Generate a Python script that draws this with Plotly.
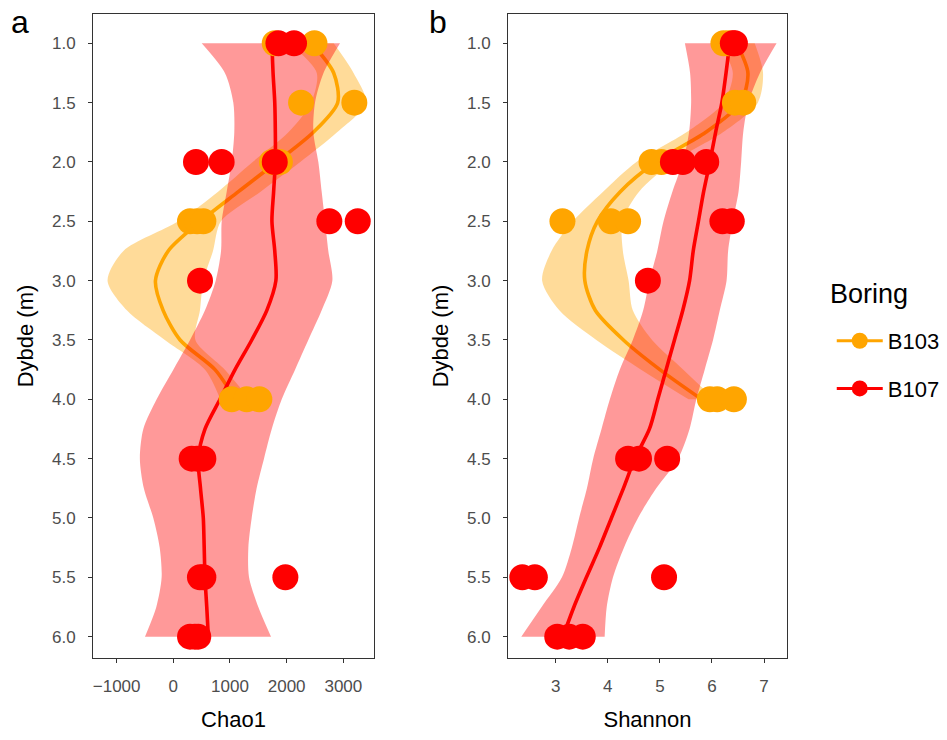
import plotly.graph_objects as go

# ---------------- data ----------------
b103_depth = [1.0, 1.0, 1.5, 1.5, 2.0, 2.0, 2.5, 2.5, 2.5, 4.0, 4.0, 4.0]
b103_chao1 = [1790, 2490, 2254, 3194, 1740, 1880, 295, 420, 530, 1030, 1295, 1518]
b103_shannon = [6.22, 6.32, 6.44, 6.60, 4.84, 5.03, 3.13, 4.06, 4.39, 5.96, 6.10, 6.42]

b107_depth = [1.0, 1.0, 2.0, 2.0, 2.0, 2.5, 2.5, 3.0, 4.5, 4.5, 4.5, 5.5, 5.5, 5.5, 6.0, 6.0, 6.0]
b107_chao1 = [1855, 2130, 400, 853, 1790, 2753, 3254, 471, 324, 420, 530, 470, 530, 1977, 295, 380, 440]
b107_shannon = [6.44, 6.40, 5.25, 5.44, 5.89, 6.20, 6.38, 4.77, 4.39, 4.60, 5.14, 2.36, 2.60, 5.08, 3.03, 3.26, 3.52]

# loess smooth curves and confidence bands
b103_fit_depth = [1.0, 1.25, 1.5, 1.75, 2.0, 2.25, 2.5, 2.75, 3.0, 3.25, 3.5, 3.75, 4.0]
b103_chao1_fit = [2440, 2830, 2900, 2470, 1825, 1148, 480, -90, -315, -180, 120, 736, 1090]
b103_chao1_lo = [2050, 2531, 2430, 2030, 1400, 790, 90, -880, -1160, -820, -150, 560, 830]
b103_chao1_hi = [2830, 3180, 3395, 2890, 2240, 1540, 840, 700, 530, 470, 390, 910, 1350]
b103_shannon_fit = [6.47, 6.69, 6.55, 5.88, 4.92, 4.24, 3.80, 3.60, 3.56, 3.76, 4.30, 5.00, 5.80]
b103_shannon_lo = [6.15, 6.40, 6.22, 5.51, 4.55, 3.91, 3.33, 2.92, 2.74, 3.07, 3.78, 4.64, 5.55]
b103_shannon_hi = [6.82, 6.98, 6.88, 6.21, 5.25, 4.60, 4.28, 4.29, 4.40, 4.48, 4.85, 5.45, 6.05]

b107_fit_depth = [1.0, 1.25, 1.5, 1.75, 2.0, 2.25, 2.5, 2.75, 3.0, 3.25, 3.5, 3.75,
                  4.0, 4.25, 4.5, 4.75, 5.0, 5.25, 5.5, 5.75, 6.0]
b107_chao1_fit = [1740, 1760, 1790, 1800, 1800, 1770, 1740, 1790, 1810, 1650, 1384, 1089,
                  824, 560, 441, 480, 529, 545, 559, 590, 618]
b107_chao1_lo = [501, 910, 1059, 1076, 1030, 942, 854, 842, 748, 559, 295, 0,
                 -294, -529, -590, -520, -353, -240, -206, -300, -500]
b107_chao1_hi = [2942, 2650, 2500, 2471, 2559, 2618, 2677, 2735, 2806, 2618, 2382, 2148,
                 1913, 1737, 1600, 1470, 1383, 1324, 1336, 1500, 1724]
b107_shannon_fit = [6.34, 6.27, 6.19, 6.07, 5.96, 5.84, 5.74, 5.64, 5.57, 5.44, 5.28, 5.12,
                    4.96, 4.80, 4.52, 4.30, 4.07, 3.84, 3.59, 3.35, 3.14]
b107_shannon_lo = [5.48, 5.58, 5.60, 5.56, 5.44, 5.24, 5.07, 4.95, 4.80, 4.68, 4.48, 4.23,
                   4.04, 3.88, 3.72, 3.60, 3.45, 3.31, 3.12, 2.73, 2.34]
b107_shannon_hi = [7.24, 6.92, 6.70, 6.60, 6.56, 6.51, 6.40, 6.31, 6.28, 6.15, 6.02, 5.86,
                   5.70, 5.57, 5.35, 4.93, 4.58, 4.31, 4.10, 3.98, 3.94]

y_ticks = [1.0, 1.5, 2.0, 2.5, 3.0, 3.5, 4.0, 4.5, 5.0, 5.5, 6.0]
chao1_ticks = [-1000, 0, 1000, 2000, 3000]
shannon_ticks = [3, 4, 5, 6, 7]

ORANGE = "#FFA500"
RED = "#FF0000"
ORANGE_FILL = "rgba(255,165,0,0.4)"
RED_FILL = "rgba(255,0,0,0.4)"
FONT = "Liberation Sans, Arial, sans-serif"

fig = go.Figure()


def add_smooth(xa, ya, depth, fit, lo, hi, line_col, fill_col):
    fig.add_trace(go.Scatter(
        x=lo, y=depth, mode="lines",
        line=dict(width=0, color=fill_col, shape="spline", smoothing=0.8),
        hoverinfo="skip", showlegend=False, xaxis=xa, yaxis=ya))
    fig.add_trace(go.Scatter(
        x=hi, y=depth, mode="lines", fill="tonextx", fillcolor=fill_col,
        line=dict(width=0, color=fill_col, shape="spline", smoothing=0.8),
        hoverinfo="skip", showlegend=False, xaxis=xa, yaxis=ya))
    fig.add_trace(go.Scatter(
        x=fit, y=depth, mode="lines",
        line=dict(color=line_col, width=3.6, shape="spline", smoothing=0.8),
        showlegend=False, xaxis=xa, yaxis=ya))


add_smooth("x", "y", b103_fit_depth, b103_chao1_fit, b103_chao1_lo, b103_chao1_hi, ORANGE, ORANGE_FILL)
add_smooth("x", "y", b107_fit_depth, b107_chao1_fit, b107_chao1_lo, b107_chao1_hi, RED, RED_FILL)
add_smooth("x2", "y2", b103_fit_depth, b103_shannon_fit, b103_shannon_lo, b103_shannon_hi, ORANGE, ORANGE_FILL)
add_smooth("x2", "y2", b107_fit_depth, b107_shannon_fit, b107_shannon_lo, b107_shannon_hi, RED, RED_FILL)

for xa, ya, xs3, xs7 in [("x", "y", b103_chao1, b107_chao1), ("x2", "y2", b103_shannon, b107_shannon)]:
    fig.add_trace(go.Scatter(x=xs3, y=b103_depth, mode="markers",
                             marker=dict(color=ORANGE, size=26), showlegend=False, xaxis=xa, yaxis=ya))
    fig.add_trace(go.Scatter(x=xs7, y=b107_depth, mode="markers",
                             marker=dict(color=RED, size=26), showlegend=False, xaxis=xa, yaxis=ya))

# legend entries
for name, col in [("B103", ORANGE), ("B107", RED)]:
    fig.add_trace(go.Scatter(x=[None], y=[None], mode="lines+markers", name=name,
                             legendgroup=name,
                             line=dict(color=col, width=3), marker=dict(color=col, size=26),
                             xaxis="x", yaxis="y"))

axis_common = dict(showline=True, linecolor="#333333", linewidth=1, mirror=True,
                   ticks="outside", ticklen=4, tickcolor="#333333", showgrid=False,
                   zeroline=False, ticklabelstandoff=9,
                   tickfont=dict(family=FONT, size=17, color="#4D4D4D"))

ydom = [1 - 658 / 740, 1 - 14 / 740]
title_font = dict(family=FONT, size=22, color="black")
fig.update_layout(
    width=947, height=740,
    margin=dict(l=0, r=0, t=0, b=0),
    paper_bgcolor="white", plot_bgcolor="white",
    font=dict(family=FONT, color="black"),
    xaxis=dict(domain=[93 / 947, 374 / 947], range=[-1417, 3541], tickvals=chao1_ticks,
               title=dict(text="Chao1", font=title_font, standoff=16),
               anchor="y", **axis_common),
    yaxis=dict(domain=ydom, range=[6.18, 0.753], tickvals=y_ticks, tickformat=".1f",
               title=dict(text="Dybde (m)", font=title_font, standoff=12),
               anchor="x", **axis_common),
    xaxis2=dict(domain=[508 / 947, 787 / 947], range=[2.085, 7.44], tickvals=shannon_ticks,
                title=dict(text="Shannon", font=title_font, standoff=16),
                anchor="y2", **axis_common),
    yaxis2=dict(domain=ydom, range=[6.18, 0.753], tickvals=y_ticks, tickformat=".1f",
                title=dict(text="Dybde (m)", font=title_font, standoff=12),
                anchor="x2", **axis_common),
    legend=dict(x=0.8783, y=0.5676, xanchor="left", yanchor="top",
                font=dict(family=FONT, size=22, color="black"), tracegroupgap=16,
                bgcolor="rgba(0,0,0,0)", itemwidth=46),
    annotations=[
        dict(text="a", x=20 / 947, y=1 - 22 / 740, xref="paper", yref="paper",
             showarrow=False, font=dict(size=32, color="black"), xanchor="center", yanchor="middle"),
        dict(text="b", x=438 / 947, y=1 - 22 / 740, xref="paper", yref="paper",
             showarrow=False, font=dict(size=32, color="black"), xanchor="center", yanchor="middle"),
        dict(text="Boring", x=828 / 947, y=1 - 294 / 740, xref="paper", yref="paper",
             showarrow=False, font=dict(family=FONT, size=27, color="black"),
             xanchor="left", yanchor="middle"),
    ],
)

fig.write_html("out.html", config={"displayModeBar": False},
               post_script="document.body.style.margin='0px';")
